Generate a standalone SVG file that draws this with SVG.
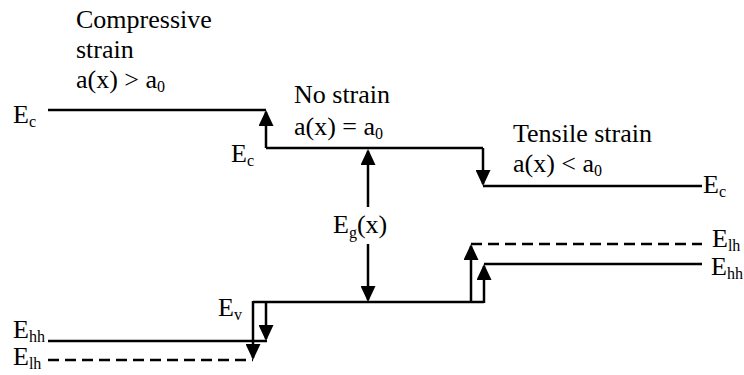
<svg xmlns="http://www.w3.org/2000/svg" width="744" height="375" viewBox="0 0 744 375">
<style>
text{font-family:"Liberation Serif","Times New Roman",serif;font-size:26px;fill:#000}
.E{font-size:26px}
.s{font-size:16px}
.ln{stroke:#000;stroke-width:2.5;fill:none}
.d{stroke-dasharray:11 6}
</style>
<defs>
<marker id="ah" viewBox="0 0 16 15" markerWidth="16" markerHeight="15" refX="14" refY="7.5" orient="auto" markerUnits="userSpaceOnUse">
<path d="M0,0 L16,7.5 L0,15 Z" fill="#000"/>
</marker>
</defs>
<g id="connectors">
<path class="ln" d="M48,110 H266"/>
<path class="ln" d="M266,148 H483"/>
<path class="ln" d="M483,186 H702"/>
<path class="ln" d="M253,302 H484"/>
<path class="ln" d="M48,341 H267"/>
<path class="ln d" d="M48,360 H253"/>
<path class="ln d" d="M471,244 H702"/>
<path class="ln" d="M484,264 H702"/>
<path class="ln" d="M266,148 V112" marker-end="url(#ah)"/>
<path class="ln" d="M483,148 V184" marker-end="url(#ah)"/>
<path class="ln" d="M368,207 V151" marker-end="url(#ah)"/>
<path class="ln" d="M368,244 V300" marker-end="url(#ah)"/>
<path class="ln" d="M253,301 V358" marker-end="url(#ah)"/>
<path class="ln" d="M266,301 V339" marker-end="url(#ah)"/>
<path class="ln" d="M471,303 V246" marker-end="url(#ah)"/>
<path class="ln" d="M484,303 V266" marker-end="url(#ah)"/>
</g>
<g id="label-compressive">
<text x="76" y="28">Compressive</text>
<text x="76" y="58">strain</text>
<text x="76" y="88">a(x) &gt; a<tspan class="s" dy="4">0</tspan></text>
</g>
<g id="label-nostrain">
<text x="294" y="103">No strain</text>
<text x="294" y="135">a(x) = a<tspan class="s" dy="4">0</tspan></text>
</g>
<g id="label-tensile">
<text x="513" y="142">Tensile strain</text>
<text x="513" y="172">a(x) &lt; a<tspan class="s" dy="4">0</tspan></text>
</g>
<g id="ec-left"><text class="E" x="13" y="123">E<tspan class="s" dy="4">c</tspan></text></g>
<g id="ec-mid"><text class="E" x="231" y="162">E<tspan class="s" dy="4">c</tspan></text></g>
<g id="ec-right"><text class="E" x="703" y="193">E<tspan class="s" dy="4">c</tspan></text></g>
<g id="eg"><text class="E" x="333" y="233">E<tspan class="s" dy="5">g</tspan><tspan dy="-5">(x)</tspan></text></g>
<g id="ev"><text class="E" x="218" y="316">E<tspan class="s" dy="4">v</tspan></text></g>
<g id="ehh-left"><text class="E" x="13" y="338">E<tspan class="s" dy="4">hh</tspan></text></g>
<g id="elh-left"><text class="E" x="13" y="365">E<tspan class="s" dy="4">lh</tspan></text></g>
<g id="elh-right"><text class="E" x="712" y="247">E<tspan class="s" dy="4">lh</tspan></text></g>
<g id="ehh-right"><text class="E" x="711" y="275">E<tspan class="s" dy="4">hh</tspan></text></g>
</svg>
